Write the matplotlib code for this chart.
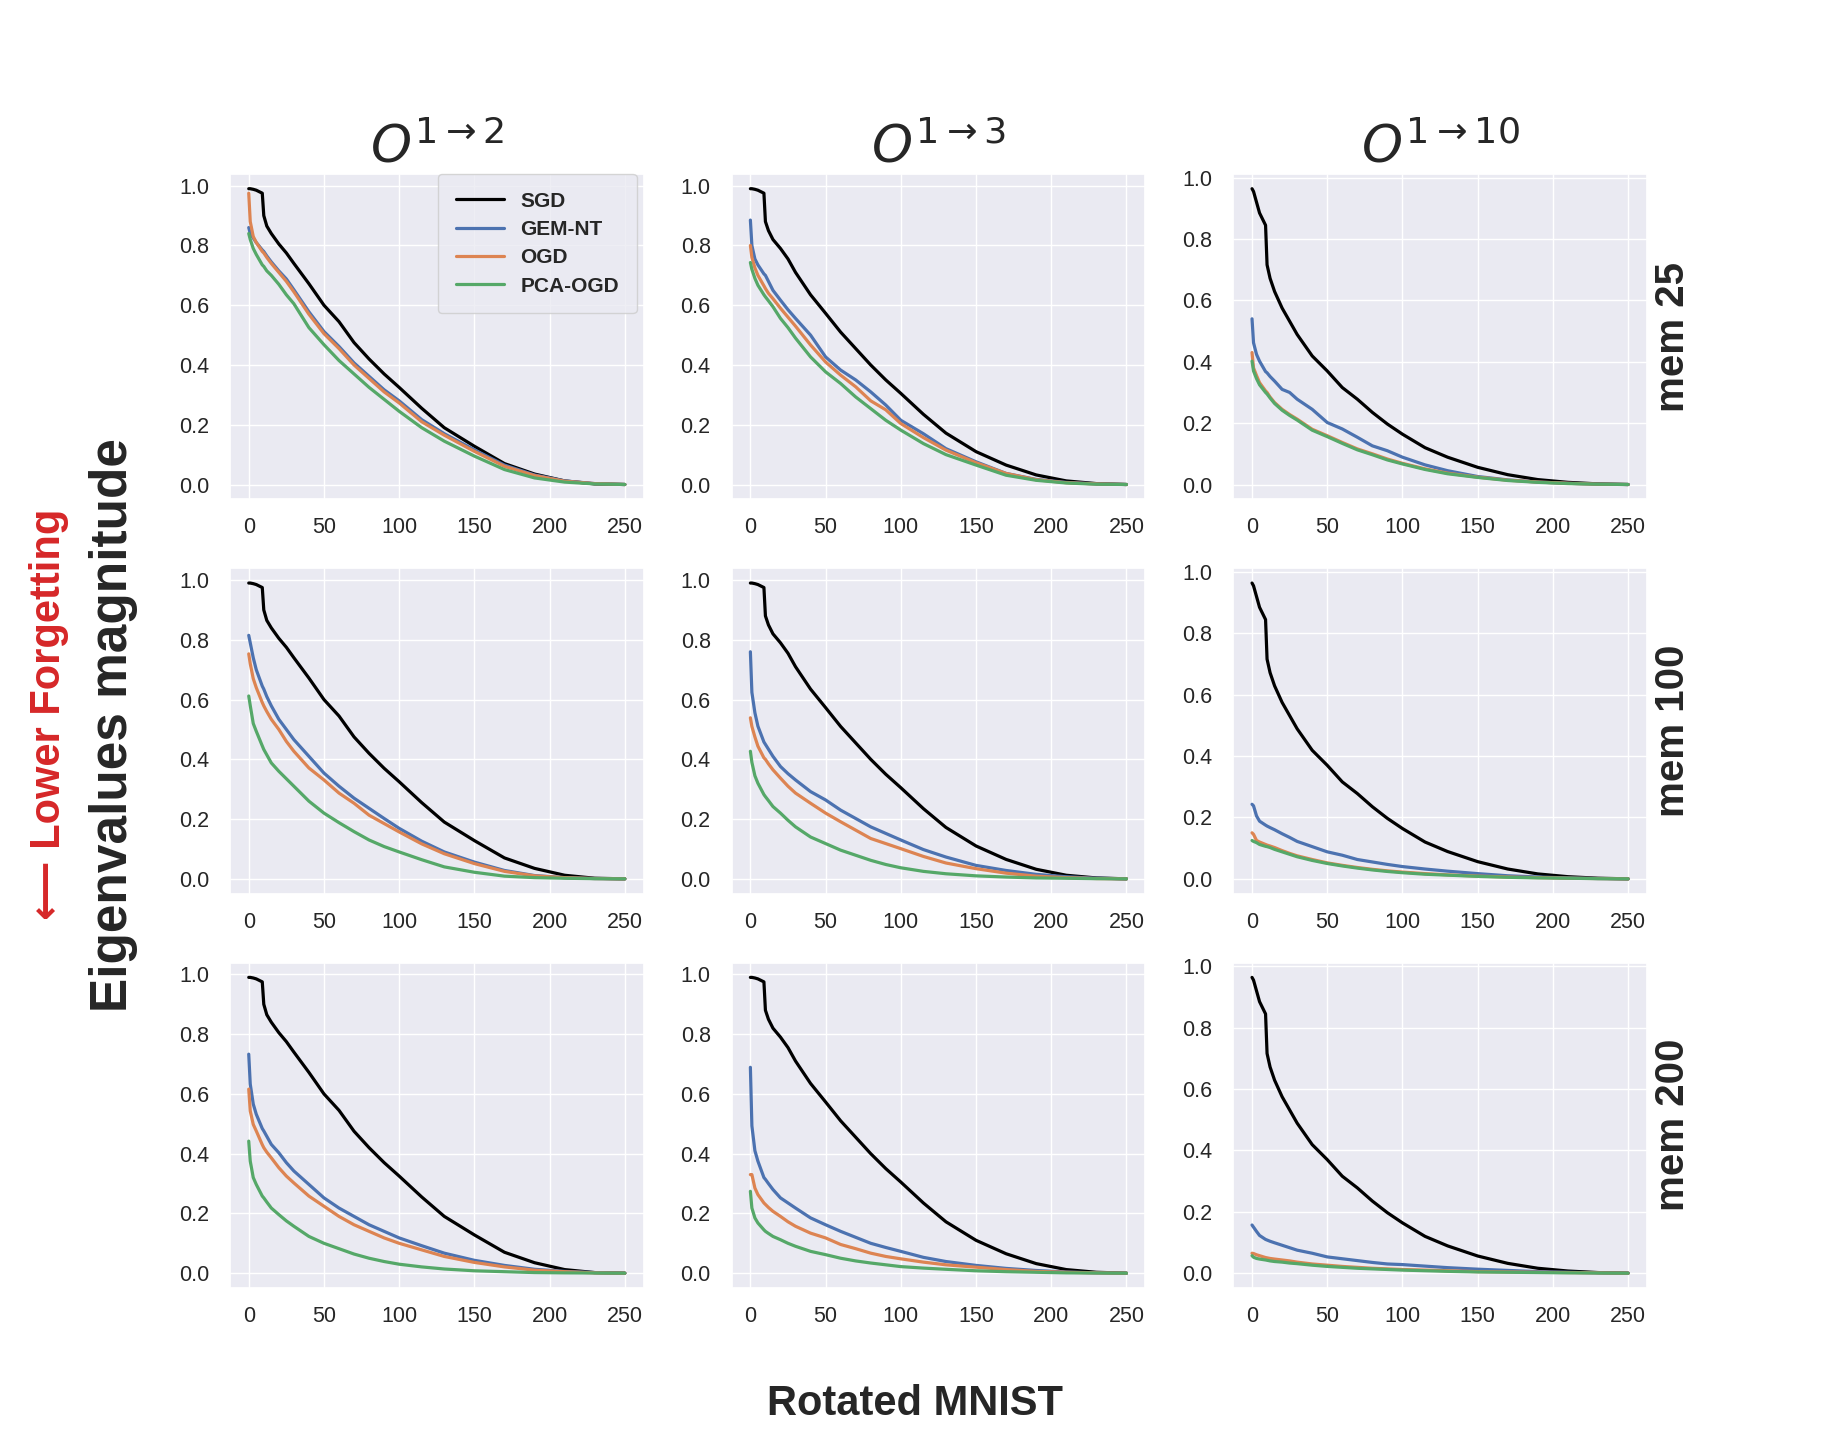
import matplotlib
matplotlib.use("Agg")
import matplotlib.pyplot as plt
import numpy as np
import seaborn as sns

idx = [0, 1, 3, 5, 9, 10, 12, 15, 20, 25, 30, 40, 50, 60, 70, 80, 90, 100,
       115, 130, 150, 170, 190, 210, 230, 250]

overlaps = [r"$O^{1\rightarrow 2}$", r"$O^{1\rightarrow 3}$", r"$O^{1\rightarrow 10}$"]
memories = ["mem 25", "mem 100", "mem 200"]
methods = ["SGD", "GEM-NT", "OGD", "PCA-OGD"]
colors = ["black", "#4C72B0", "#DD8452", "#55A868"]

# SGD does not depend on memory size: one curve per task overlap
sgd_o2 = [0.99, 0.99, 0.988, 0.985, 0.975, 0.90, 0.865, 0.84, 0.805, 0.775, 0.74, 0.672, 0.60, 0.545,
          0.475, 0.42, 0.37, 0.325, 0.255, 0.19, 0.128, 0.07, 0.035, 0.012, 0.002, 0.0]
sgd_o3 = [0.99, 0.99, 0.988, 0.985, 0.975, 0.88, 0.85, 0.82, 0.79, 0.755, 0.71, 0.635, 0.573, 0.51,
          0.455, 0.40, 0.35, 0.305, 0.235, 0.172, 0.11, 0.065, 0.032, 0.012, 0.003, 0.0]
sgd_o10 = [0.964, 0.955, 0.92, 0.885, 0.845, 0.716, 0.672, 0.629, 0.575, 0.532, 0.489, 0.419, 0.37, 0.316,
           0.278, 0.235, 0.197, 0.164, 0.12, 0.089, 0.056, 0.032, 0.016, 0.007, 0.002, 0.0]

# mem 25
gem_m25_o2 = [0.86, 0.84, 0.825, 0.81, 0.785, 0.78, 0.765, 0.745, 0.715, 0.688, 0.652, 0.578, 0.512, 0.462,
              0.407, 0.362, 0.317, 0.28, 0.217, 0.17, 0.116, 0.065, 0.032, 0.012, 0.003, 0.0]
ogd_m25_o2 = [0.975, 0.88, 0.83, 0.81, 0.78, 0.775, 0.76, 0.74, 0.71, 0.68, 0.645, 0.57, 0.505, 0.455,
              0.40, 0.355, 0.31, 0.273, 0.21, 0.165, 0.111, 0.061, 0.03, 0.011, 0.003, 0.0]
pca_m25_o2 = [0.84, 0.82, 0.79, 0.77, 0.735, 0.73, 0.715, 0.70, 0.67, 0.635, 0.605, 0.525, 0.468, 0.415,
              0.37, 0.325, 0.285, 0.245, 0.19, 0.145, 0.095, 0.05, 0.022, 0.008, 0.002, 0.0]
gem_m25_o3 = [0.885, 0.80, 0.755, 0.735, 0.705, 0.70, 0.68, 0.65, 0.617, 0.585, 0.556, 0.50, 0.427, 0.383,
              0.35, 0.31, 0.266, 0.215, 0.17, 0.12, 0.076, 0.037, 0.017, 0.007, 0.002, 0.0]
ogd_m25_o3 = [0.80, 0.76, 0.725, 0.70, 0.665, 0.656, 0.64, 0.622, 0.59, 0.56, 0.53, 0.467, 0.41, 0.366,
              0.327, 0.28, 0.25, 0.204, 0.157, 0.115, 0.073, 0.037, 0.016, 0.006, 0.002, 0.0]
pca_m25_o3 = [0.743, 0.72, 0.69, 0.667, 0.635, 0.628, 0.615, 0.595, 0.556, 0.525, 0.49, 0.427, 0.377, 0.338,
              0.293, 0.254, 0.215, 0.182, 0.137, 0.10, 0.065, 0.031, 0.014, 0.005, 0.001, 0.0]
gem_m25_o10 = [0.54, 0.462, 0.424, 0.402, 0.368, 0.364, 0.352, 0.337, 0.31, 0.30, 0.278, 0.245, 0.202, 0.181,
               0.154, 0.126, 0.11, 0.089, 0.064, 0.045, 0.026, 0.015, 0.008, 0.004, 0.001, 0.0]
ogd_m25_o10 = [0.43, 0.38, 0.355, 0.332, 0.305, 0.30, 0.285, 0.267, 0.245, 0.228, 0.213, 0.18, 0.159, 0.137,
               0.116, 0.10, 0.083, 0.069, 0.051, 0.037, 0.024, 0.014, 0.008, 0.004, 0.001, 0.0]
pca_m25_o10 = [0.402, 0.37, 0.345, 0.325, 0.30, 0.295, 0.282, 0.264, 0.242, 0.225, 0.21, 0.177, 0.156, 0.134,
               0.113, 0.097, 0.08, 0.067, 0.049, 0.035, 0.023, 0.013, 0.007, 0.003, 0.001, 0.0]

# mem 100
gem_m100_o2 = [0.815, 0.79, 0.74, 0.70, 0.645, 0.635, 0.61, 0.579, 0.534, 0.50, 0.466, 0.41, 0.354, 0.31,
               0.27, 0.236, 0.202, 0.169, 0.126, 0.09, 0.056, 0.028, 0.011, 0.004, 0.001, 0.0]
ogd_m100_o2 = [0.753, 0.72, 0.67, 0.64, 0.59, 0.579, 0.56, 0.534, 0.50, 0.46, 0.427, 0.371, 0.331, 0.287,
               0.253, 0.213, 0.185, 0.157, 0.117, 0.084, 0.051, 0.025, 0.01, 0.004, 0.001, 0.0]
pca_m100_o2 = [0.612, 0.58, 0.52, 0.494, 0.445, 0.433, 0.415, 0.388, 0.36, 0.335, 0.31, 0.26, 0.22, 0.188,
               0.158, 0.13, 0.108, 0.09, 0.064, 0.04, 0.022, 0.009, 0.004, 0.002, 0.0005, 0.0]
gem_m100_o3 = [0.76, 0.624, 0.556, 0.511, 0.458, 0.45, 0.434, 0.41, 0.376, 0.352, 0.331, 0.292, 0.264, 0.23,
               0.202, 0.174, 0.152, 0.13, 0.098, 0.073, 0.045, 0.028, 0.015, 0.007, 0.002, 0.0]
ogd_m100_o3 = [0.539, 0.51, 0.475, 0.444, 0.405, 0.40, 0.385, 0.365, 0.337, 0.31, 0.287, 0.253, 0.22, 0.191,
               0.163, 0.135, 0.118, 0.101, 0.075, 0.053, 0.034, 0.019, 0.009, 0.004, 0.001, 0.0]
pca_m100_o3 = [0.427, 0.39, 0.345, 0.32, 0.282, 0.275, 0.262, 0.242, 0.22, 0.196, 0.174, 0.14, 0.118, 0.096,
               0.079, 0.062, 0.048, 0.037, 0.025, 0.017, 0.01, 0.006, 0.003, 0.002, 0.0005, 0.0]
gem_m100_o10 = [0.243, 0.238, 0.205, 0.188, 0.175, 0.172, 0.167, 0.16, 0.147, 0.135, 0.122, 0.105, 0.088, 0.077,
                0.063, 0.055, 0.047, 0.04, 0.032, 0.025, 0.017, 0.01, 0.006, 0.003, 0.001, 0.0]
ogd_m100_o10 = [0.15, 0.145, 0.125, 0.12, 0.112, 0.11, 0.107, 0.102, 0.092, 0.083, 0.075, 0.063, 0.052, 0.044,
                0.037, 0.031, 0.026, 0.022, 0.017, 0.013, 0.009, 0.006, 0.004, 0.002, 0.001, 0.0]
pca_m100_o10 = [0.125, 0.122, 0.118, 0.112, 0.106, 0.105, 0.102, 0.096, 0.088, 0.08, 0.072, 0.06, 0.05, 0.042,
                0.035, 0.029, 0.024, 0.02, 0.015, 0.012, 0.008, 0.005, 0.003, 0.002, 0.0005, 0.0]

# mem 200
gem_m200_o2 = [0.733, 0.633, 0.566, 0.532, 0.484, 0.476, 0.458, 0.431, 0.403, 0.37, 0.342, 0.297, 0.252, 0.218,
               0.19, 0.162, 0.14, 0.118, 0.092, 0.067, 0.043, 0.026, 0.013, 0.006, 0.002, 0.0]
ogd_m200_o2 = [0.616, 0.543, 0.498, 0.476, 0.43, 0.42, 0.405, 0.386, 0.353, 0.325, 0.302, 0.258, 0.224, 0.19,
               0.162, 0.14, 0.118, 0.10, 0.078, 0.056, 0.036, 0.021, 0.01, 0.005, 0.001, 0.0]
pca_m200_o2 = [0.442, 0.375, 0.32, 0.297, 0.258, 0.252, 0.238, 0.218, 0.196, 0.175, 0.157, 0.123, 0.10, 0.082,
               0.064, 0.05, 0.039, 0.03, 0.021, 0.014, 0.008, 0.005, 0.002, 0.001, 0.0005, 0.0]
gem_m200_o3 = [0.689, 0.493, 0.41, 0.375, 0.32, 0.314, 0.30, 0.28, 0.252, 0.235, 0.218, 0.185, 0.162, 0.14,
               0.12, 0.10, 0.086, 0.073, 0.053, 0.039, 0.026, 0.016, 0.009, 0.004, 0.001, 0.0]
ogd_m200_o3 = [0.33, 0.33, 0.285, 0.263, 0.235, 0.23, 0.22, 0.207, 0.19, 0.172, 0.157, 0.134, 0.118, 0.096,
               0.082, 0.067, 0.056, 0.048, 0.037, 0.028, 0.02, 0.012, 0.006, 0.003, 0.001, 0.0]
pca_m200_o3 = [0.274, 0.218, 0.185, 0.168, 0.145, 0.14, 0.133, 0.123, 0.112, 0.10, 0.09, 0.073, 0.062, 0.05,
               0.041, 0.034, 0.028, 0.022, 0.017, 0.013, 0.008, 0.005, 0.003, 0.001, 0.0005, 0.0]
gem_m200_o10 = [0.157, 0.15, 0.136, 0.123, 0.11, 0.108, 0.104, 0.099, 0.091, 0.083, 0.075, 0.065, 0.053, 0.047,
                0.041, 0.035, 0.03, 0.028, 0.023, 0.018, 0.013, 0.009, 0.005, 0.003, 0.001, 0.0]
ogd_m200_o10 = [0.065, 0.064, 0.06, 0.057, 0.051, 0.05, 0.048, 0.046, 0.043, 0.04, 0.036, 0.03, 0.026, 0.022,
                0.019, 0.016, 0.014, 0.012, 0.01, 0.008, 0.005, 0.004, 0.003, 0.002, 0.001, 0.0]
pca_m200_o10 = [0.057, 0.052, 0.048, 0.046, 0.043, 0.042, 0.04, 0.038, 0.036, 0.033, 0.031, 0.026, 0.022, 0.019,
                0.016, 0.014, 0.012, 0.01, 0.008, 0.006, 0.004, 0.003, 0.002, 0.001, 0.0005, 0.0]

sgd = [sgd_o2, sgd_o3, sgd_o10]
grid = [
    [(gem_m25_o2, ogd_m25_o2, pca_m25_o2), (gem_m25_o3, ogd_m25_o3, pca_m25_o3), (gem_m25_o10, ogd_m25_o10, pca_m25_o10)],
    [(gem_m100_o2, ogd_m100_o2, pca_m100_o2), (gem_m100_o3, ogd_m100_o3, pca_m100_o3), (gem_m100_o10, ogd_m100_o10, pca_m100_o10)],
    [(gem_m200_o2, ogd_m200_o2, pca_m200_o2), (gem_m200_o3, ogd_m200_o3, pca_m200_o3), (gem_m200_o10, ogd_m200_o10, pca_m200_o10)],
]

sns.set_theme(style="darkgrid")
plt.rcParams["font.family"] = ["Liberation Sans", "DejaVu Sans"]
plt.rcParams["mathtext.fontset"] = "dejavusans"

fig, axes = plt.subplots(3, 3, figsize=(18.22, 14.41), dpi=100)
fig.subplots_adjust(left=0.1262, right=0.9039, top=0.8793, bottom=0.1062,
                    wspace=0.2126, hspace=0.212)

for r in range(3):
    for c in range(3):
        ax = axes[r, c]
        curves = [sgd[c]] + list(grid[r][c])
        for name, col, ys in zip(methods, colors, curves):
            ax.plot(idx, ys, color=col, lw=2.3, label=name)
        ax.set_xticks([0, 50, 100, 150, 200, 250])
        ax.set_yticks([0.0, 0.2, 0.4, 0.6, 0.8, 1.0])
        ax.set_yticklabels(["0.0", "0.2", "0.4", "0.6", "0.8", "1.0"])
        ax.tick_params(axis="x", labelsize=15.5, pad=7, labelcolor="#262626")
        ax.tick_params(axis="y", labelsize=15.5, pad=9, labelcolor="#262626")
        if r == 0:
            ax.set_title(overlaps[c], fontsize=37.5, pad=8, color="#262626")
        if c == 2:
            ax.text(1.063, 0.5, memories[r], transform=ax.transAxes, rotation=90,
                    ha="center", va="center", fontsize=29, fontweight="bold", color="#262626")

leg = axes[0, 0].legend(loc="upper right", bbox_to_anchor=(0.983, 1.0), borderaxespad=0.0,
                        borderpad=0.85, handlelength=2.3, labelspacing=0.45,
                        prop={"weight": "bold", "size": 15})

fig.text(113 / 1822, 1 - 725 / 1441, "Eigenvalues magnitude", rotation=90, ha="center", va="center",
         fontsize=37, fontweight="bold", color="#262626")
fig.text(49 / 1822, 1 - 714 / 1441, "\u27f5 Lower Forgetting", rotation=90, ha="center", va="center",
         fontsize=30, fontweight="bold", color="#d62728")
fig.text(915 / 1822, 1 - 1404 / 1441, "Rotated MNIST", ha="center", va="center",
         fontsize=30, fontweight="bold", color="#262626")

fig.savefig("out.png", dpi=100)
